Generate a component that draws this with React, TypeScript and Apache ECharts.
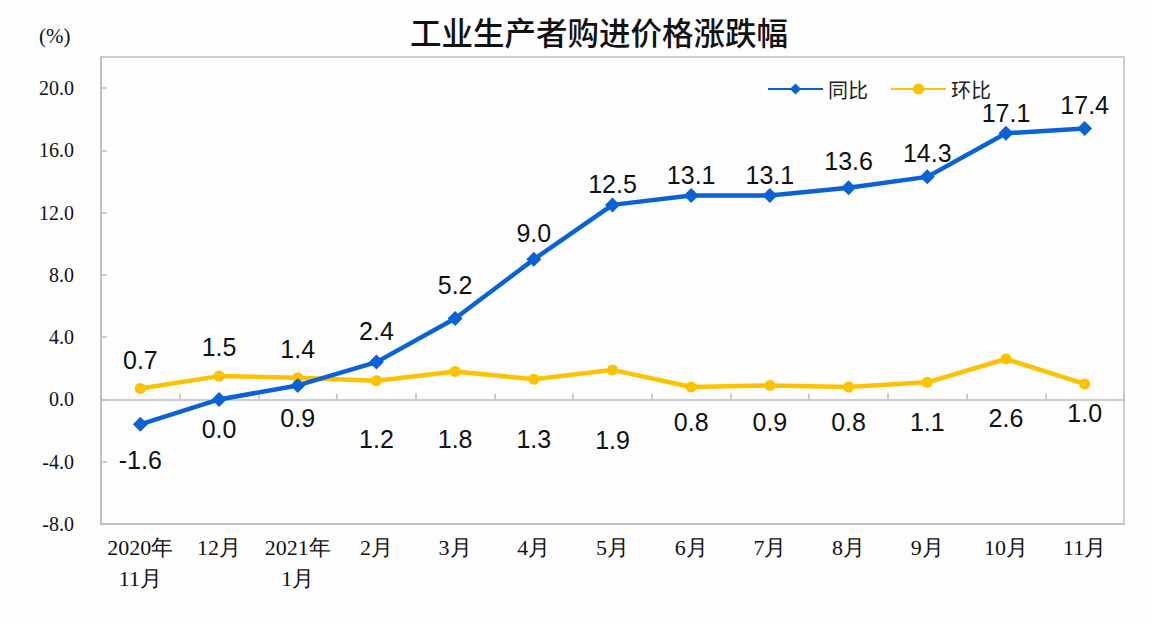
import React, { useEffect, useRef } from "react";
import * as echarts from "echarts";

const categories = ["2020年\n11月", "12月", "2021年\n1月", "2月", "3月", "4月", "5月", "6月", "7月", "8月", "9月", "10月", "11月"];
const yoyValues = [-1.6, 0.0, 0.9, 2.4, 5.2, 9.0, 12.5, 13.1, 13.1, 13.6, 14.3, 17.1, 17.4];
const momValues = [0.7, 1.5, 1.4, 1.2, 1.8, 1.3, 1.9, 0.8, 0.9, 0.8, 1.1, 2.6, 1.0];
const yTickLabels = ["-8.0", "-4.0", "0.0", "4.0", "8.0", "12.0", "16.0", "20.0"];

// label placement styling (not data)
const yoyBelow = [true, true, true, false, false, false, false, false, false, false, false, false, false];
const yoyGap = [16, 10, 13, 11, 14, 6, 1, 1, 1, 7, 4, 0, 4];
const momBelow = [false, false, false, true, true, true, true, true, true, true, true, true, true];
const momGap = [11, 11, 11, 40, 50, 42, 52, 17, 19, 17, 22, 41, 11];

const BLUE = "#0b62d6";
const YELLOW = "#fcc200";
const GRAY = "#bdbdbd";

export default function App() {
  const ref = useRef<HTMLDivElement>(null);
  useEffect(() => {
    document.body.style.margin = "0";
    const chart = echarts.init(ref.current!, null, { renderer: "svg" });
    const labelFont = { fontFamily: "Liberation Sans, Arial, sans-serif", fontSize: 25, color: "#111" };
    chart.setOption({
      animation: false,
      backgroundColor: "#fdfdfd",
      graphic: [
        {
          type: "text",
          left: 410,
          top: 15,
          style: { text: "工业生产者购进价格涨跌幅", font: "500 31.5px 'Noto Sans CJK SC'", fill: "#111" },
        },
        {
          type: "text",
          left: 39,
          top: 25,
          style: { text: "(%)", font: "21px 'Liberation Serif', serif", fill: "#111" },
        },
      ],
      legend: {
        left: 762,
        top: 74,
        itemWidth: 55,
        itemHeight: 14,
        itemGap: 22,
        textStyle: { fontFamily: "Noto Sans CJK SC", fontSize: 20, color: "#222" },
        data: ["同比", "环比"],
      },
      grid: { left: 101, right: 28, top: 57, bottom: 100, show: true, borderColor: GRAY, borderWidth: 1.5 },
      xAxis: [
        {
          type: "category",
          data: categories,
          boundaryGap: true,
          position: "bottom",
          axisLine: { onZero: false, show: true, lineStyle: { color: GRAY, width: 1.5 } },
          axisTick: { show: false },
          axisLabel: {
            interval: 0,
            margin: 8,
            lineHeight: 31,
            fontFamily: "Liberation Serif, serif",
            fontSize: 22,
            color: "#111",
          },
        },
        {
          type: "category",
          data: categories,
          boundaryGap: true,
          position: "bottom",
          axisLine: { onZero: true, show: true, lineStyle: { color: GRAY, width: 1.5 } },
          axisTick: { show: true, inside: true, length: 6, lineStyle: { color: GRAY, width: 1.5 } },
          axisLabel: { show: false },
        },
      ],
      yAxis: {
        type: "value",
        min: -8,
        max: 22,
        interval: 4,
        axisLine: { show: true, lineStyle: { color: GRAY, width: 1.5 } },
        axisTick: { show: true, inside: true, length: 6, lineStyle: { color: GRAY, width: 1.5 } },
        splitLine: { show: false },
        axisLabel: {
          showMaxLabel: false,
          margin: 27,
          fontFamily: "Liberation Serif, serif",
          fontSize: 20,
          color: "#111",
          formatter: (v: number) => {
            const idx = Math.round((v + 8) / 4);
            return yTickLabels[idx] !== undefined && Math.abs((v + 8) % 4) < 1e-9 ? yTickLabels[idx] : "";
          },
        },
      },
      series: [
        {
          name: "同比",
          type: "line",
          xAxisIndex: 0,
          symbol: "diamond",
          symbolSize: 15,
          color: BLUE,
          lineStyle: { color: BLUE, width: 4.5 },
          itemStyle: { color: BLUE },
          z: 3,
          data: yoyValues.map((v, i) => ({
            value: v,
            label: {
              show: true,
              position: yoyBelow[i] ? "bottom" : "top",
              distance: yoyGap[i],
              formatter: v.toFixed(1),
              ...labelFont,
            },
          })),
        },
        {
          name: "环比",
          type: "line",
          xAxisIndex: 0,
          symbol: "circle",
          symbolSize: 11,
          color: YELLOW,
          lineStyle: { color: YELLOW, width: 4.5 },
          itemStyle: { color: YELLOW },
          z: 2,
          data: momValues.map((v, i) => ({
            value: v,
            label: {
              show: true,
              position: momBelow[i] ? "bottom" : "top",
              distance: momGap[i],
              formatter: v.toFixed(1),
              ...labelFont,
            },
          })),
        },
      ],
    });
    return () => chart.dispose();
  }, []);
  return <div ref={ref} style={{ width: 1152, height: 624 }} />;
}
